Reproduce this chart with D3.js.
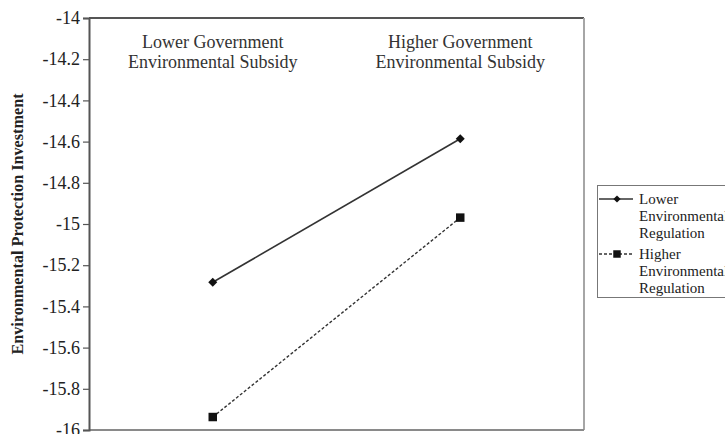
<!DOCTYPE html>
<html>
<head>
<meta charset="utf-8">
<script src="https://cdn.jsdelivr.net/npm/d3@7"></script>
<style>
  body { margin: 0; background: #fff; }
  svg { display: block; }
  svg text { font-family: "Liberation Serif", "Times New Roman", serif; }
</style>
</head>
<body>
<svg id="chart" width="725" height="434"></svg>
<script>
// Categories along the x axis (drawn as two-line labels at the top of the plot)
const categories = ["Lower Government Environmental Subsidy", "Higher Government Environmental Subsidy"];
const categoryLines = [["Lower Government", "Environmental Subsidy"], ["Higher Government", "Environmental Subsidy"]];

// Series: one line per regulation level
const seriesNames = ["Lower Environmental Regulation", "Higher Environmental Regulation"];
const seriesLegendLines = [["Lower", "Environmental", "Regulation"], ["Higher", "Environmental", "Regulation"]];
const lowerRegulation = [-15.283, -14.586];
const higherRegulation = [-15.937, -14.969];

// Y axis ticks
const yTicks = [-14, -14.2, -14.4, -14.6, -14.8, -15, -15.2, -15.4, -15.6, -15.8, -16];
const yTitle = "Environmental Protection Investment";

const svg = d3.select("#chart");
const margin = { left: 89, top: 18, right: 584, bottom: 430 };

const x = d3.scaleBand().domain(categories).range([margin.left, margin.right]);
const y = d3.scaleLinear().domain([-16, -14]).range([margin.bottom, margin.top]);

// Plot frame
svg.append("line").attr("x1", margin.left).attr("x2", margin.right)
  .attr("y1", margin.top).attr("y2", margin.top)
  .attr("stroke", "#555").attr("stroke-width", 2);
svg.append("line").attr("x1", margin.right).attr("x2", margin.right)
  .attr("y1", margin.top).attr("y2", margin.bottom)
  .attr("stroke", "#a6a6a6").attr("stroke-width", 2);
svg.append("line").attr("x1", margin.left).attr("x2", margin.right)
  .attr("y1", margin.bottom).attr("y2", margin.bottom)
  .attr("stroke", "#8a8a8a").attr("stroke-width", 2);

// Y axis
const yAxis = d3.axisLeft(y).tickValues(yTicks).tickSize(6).tickPadding(3)
  .tickFormat(d => String(+d.toFixed(1)));
const gy = svg.append("g").attr("transform", `translate(${margin.left},0)`).call(yAxis);
gy.attr("font-family", null);
gy.select(".domain").attr("stroke", "#555").attr("stroke-width", 2);
gy.selectAll(".tick line").attr("stroke", "#555").attr("stroke-width", 1.2);
gy.selectAll(".tick text")
  .style("font-family", "'Liberation Serif', serif")
  .attr("font-size", 18).attr("fill", "#222");

// Y axis title
svg.append("text")
  .attr("transform", `translate(23,${(margin.top + margin.bottom) / 2}) rotate(-90)`)
  .attr("text-anchor", "middle")
  .attr("font-size", 16.2).attr("font-weight", "bold").attr("fill", "#222")
  .text(yTitle);

// Category labels inside the top of the plot
categories.forEach((c, i) => {
  const t = svg.append("text").attr("text-anchor", "middle").attr("font-size", 18).attr("fill", "#333");
  categoryLines[i].forEach((ln, j) => {
    t.append("tspan").attr("x", x(c) + x.bandwidth() / 2).attr("y", 48 + j * 20).text(ln);
  });
});

const cx = c => x(c) + x.bandwidth() / 2;
const lineGen = d3.line().x((d, i) => cx(categories[i])).y(d => y(d));

// Lower regulation: solid line, diamond markers
svg.append("path").datum(lowerRegulation).attr("d", lineGen)
  .attr("fill", "none").attr("stroke", "#333").attr("stroke-width", 1.6);
svg.selectAll(".diamond").data(lowerRegulation).enter().append("path")
  .attr("transform", (d, i) => `translate(${cx(categories[i])},${y(d)}) rotate(45)`)
  .attr("d", d3.symbol().type(d3.symbolSquare).size(40))
  .attr("fill", "#111");

// Higher regulation: dashed line, square markers
svg.append("path").datum(higherRegulation).attr("d", lineGen)
  .attr("fill", "none").attr("stroke", "#333").attr("stroke-width", 1.4)
  .attr("stroke-dasharray", "3,2");
svg.selectAll(".square").data(higherRegulation).enter().append("path")
  .attr("transform", (d, i) => `translate(${cx(categories[i])},${y(d)})`)
  .attr("d", d3.symbol().type(d3.symbolSquare).size(72))
  .attr("fill", "#111");

// Legend
const lg = svg.append("g");
lg.append("rect").attr("x", 597.5).attr("y", 185.5).attr("width", 140).attr("height", 112)
  .attr("fill", "#fff").attr("stroke", "#777").attr("stroke-width", 1);
const legendItems = [
  { lines: seriesLegendLines[0], dash: null, symbol: d3.symbolSquare, size: 26, rot: 45, y0: 199 },
  { lines: seriesLegendLines[1], dash: "3,2", symbol: d3.symbolSquare, size: 56, rot: 0, y0: 254 }
];
legendItems.forEach(it => {
  lg.append("line").attr("x1", 599).attr("x2", 633).attr("y1", it.y0).attr("y2", it.y0)
    .attr("stroke", "#333").attr("stroke-width", 1.3).attr("stroke-dasharray", it.dash);
  lg.append("path").attr("transform", `translate(617,${it.y0}) rotate(${it.rot})`)
    .attr("d", d3.symbol().type(it.symbol).size(it.size)).attr("fill", "#111");
  const t = lg.append("text").attr("font-size", 15).attr("fill", "#222");
  it.lines.forEach((ln, j) => {
    t.append("tspan").attr("x", 639).attr("y", it.y0 + 5 + j * 17).text(ln);
  });
});
</script>
</body>
</html>
